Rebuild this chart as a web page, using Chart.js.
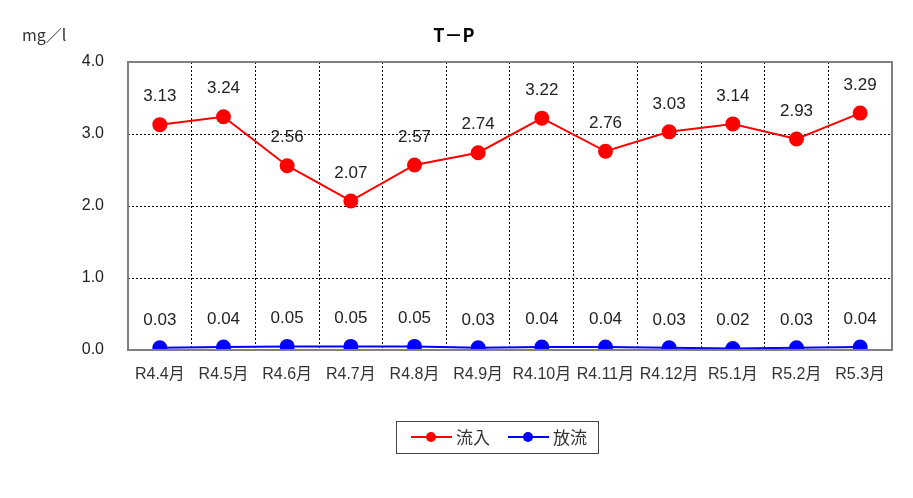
<!DOCTYPE html>
<html>
<head>
<meta charset="utf-8">
<script src="https://cdn.jsdelivr.net/npm/chart.js@4.4.0/dist/chart.umd.min.js"></script>
<style>
  html, body { margin: 0; padding: 0; background: #fff; }
  #wrap { width: 913px; height: 498px; position: relative; }
</style>
</head>
<body>
<div id="wrap"><canvas id="tp-chart" width="913" height="498"></canvas></div>
<script>
const meses = ['R4.4月','R4.5月','R4.6月','R4.7月','R4.8月','R4.9月','R4.10月','R4.11月','R4.12月','R5.1月','R5.2月','R5.3月'];
const ryunyu = [3.13,3.24,2.56,2.07,2.57,2.74,3.22,2.76,3.03,3.14,2.93,3.29];
const horyu = [0.03,0.04,0.05,0.05,0.05,0.03,0.04,0.04,0.03,0.02,0.03,0.04];
const yTicks = [0,1,2,3,4];

const fuente = '"Liberation Sans", "Noto Sans CJK JP", sans-serif';
const fuenteJp = '"Noto Sans CJK JP", sans-serif';

// etiquetas de valores, titulo, unidad y leyenda
const extras = {
	id: 'extras',
	afterDatasetsDraw(chart) {
		const ctx = chart.ctx;
		const a = chart.chartArea;
		ctx.save();
		// borde del area
		ctx.strokeStyle = '#808080';
		ctx.lineWidth = 2;
		ctx.strokeRect(a.left, a.top, a.right - a.left, a.bottom - a.top);
		// valores
		ctx.fillStyle = '#222';
		ctx.font = '17px ' + fuente;
		ctx.textAlign = 'center';
		ctx.textBaseline = 'middle';
		chart.data.datasets.forEach((ds, i) => {
			chart.getDatasetMeta(i).data.forEach((p, j) => {
				ctx.fillText(ds.data[j].toFixed(2), p.x, p.y - 28);
			});
		});
		ctx.restore();
	},
	afterDraw(chart) {
		const ctx = chart.ctx;
		ctx.save();
		ctx.fillStyle = '#000';
		ctx.font = 'bold 18px ' + fuenteJp;
		ctx.textAlign = 'center';
		ctx.textBaseline = 'middle';
		ctx.fillText('T－P', 454, 35);
		ctx.fillStyle = '#333';
		ctx.font = '16px ' + fuenteJp;
		ctx.textAlign = 'left';
		ctx.fillText('mg／l', 22, 35);
		// leyenda
		ctx.strokeStyle = '#444';
		ctx.lineWidth = 1;
		ctx.strokeRect(396.5, 421.5, 202, 32);
		const items = [{c: '#FF0000', x: 411, t: '流入'}, {c: '#0000FF', x: 508, t: '放流'}];
		items.forEach(it => {
			ctx.strokeStyle = it.c;
			ctx.lineWidth = 2;
			ctx.beginPath();
			ctx.moveTo(it.x, 437);
			ctx.lineTo(it.x + 41, 437);
			ctx.stroke();
			ctx.fillStyle = it.c;
			ctx.beginPath();
			ctx.arc(it.x + 20, 437, 5, 0, Math.PI * 2);
			ctx.fill();
			ctx.fillStyle = '#333';
			ctx.font = '17px ' + fuenteJp;
			ctx.textAlign = 'left';
			ctx.fillText(it.t, it.x + 45, 438);
		});
		ctx.restore();
	}
};

let config = {
	type: 'line',
	data: {
		labels: meses,
		datasets: [
			{label: '流入', data: ryunyu, borderColor: '#FF0000', backgroundColor: '#FF0000', borderWidth: 2, pointRadius: 6.5, pointHoverRadius: 6.5},
			{label: '放流', data: horyu, borderColor: '#0000FF', backgroundColor: '#0000FF', borderWidth: 2, pointRadius: 6.5, pointHoverRadius: 6.5}
		]
	},
	options: {
		responsive: false,
		animation: false,
		layout: {padding: {left: 0, right: 21, top: 62, bottom: 0}},
		plugins: {legend: {display: false}, tooltip: {enabled: false}, title: {display: false}},
		scales: {
			x: {
				offset: true,
				grid: {offset: true, color: '#000', lineWidth: 1, tickLength: 0, drawTicks: false},
				border: {display: false, dash: [2, 2]},
				ticks: {color: '#333', font: {family: fuente, size: 16}, padding: 15, maxRotation: 0, autoSkip: false},
				afterFit(s) { s.height = 148; }
			},
			y: {
				min: 0, max: 4,
				afterBuildTicks(s) { s.ticks = yTicks.map(v => ({value: v})); },
				grid: {color: '#000', lineWidth: 1, drawTicks: false},
				border: {display: false, dash: [2, 2]},
				ticks: {color: '#222', font: {family: fuente, size: 16}, padding: 24, callback: v => v.toFixed(1)},
				afterFit(s) { s.width = 128; }
			}
		}
	},
	plugins: [extras]
};

const myChart = new Chart(document.getElementById('tp-chart'), config);
</script>
</body>
</html>
